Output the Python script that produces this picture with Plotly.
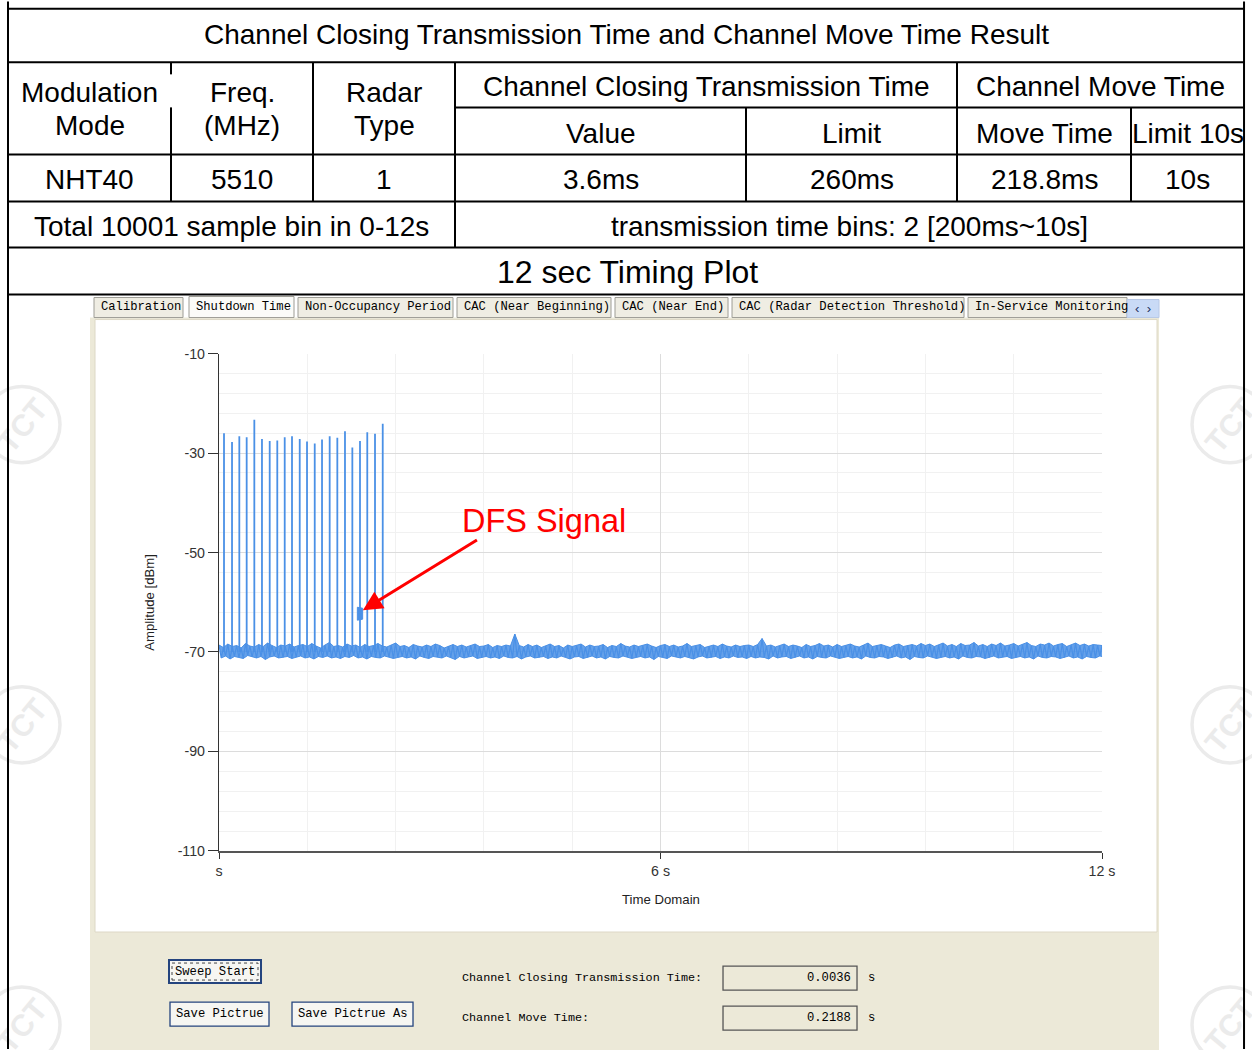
import numpy as np
import plotly.graph_objects as go

# Figure fills the whole window (body margin removed by post_script).
# Layout positions below are given in reference-picture pixels; the helper
# functions map them onto the page, allowing for the small scale/offset
# that the photographing step applies to the window.
W, H = 1252, 1050
SX, BX = 0.9864, 4.0
SY, BY = 0.984, 8.7
K = 2.0 / (SX + SY)  # size compensation for fonts / pixel lengths


def px(x):
    return (x - BX) / SX / W


def py(y):
    return 1 - (y - BY) / SY / H


# ---------------- data ----------------
SPIKE_T = [0.068, 0.177, 0.276, 0.376, 0.480, 0.584, 0.689, 0.792, 0.893, 0.992, 1.097,
           1.196, 1.301, 1.400, 1.504, 1.608, 1.712, 1.812, 1.916, 2.015, 2.120, 2.225]
SPIKE_PEAK = [-26.0, -27.8, -26.6, -26.8, -23.3, -27.2, -27.6, -27.5, -26.8, -26.6, -27.2,
              -27.7, -28.1, -27.3, -26.6, -26.9, -25.6, -28.9, -27.6, -25.8, -26.1, -24.1]
NOISE_LEVEL = -70.0

DFS_T = [1.880, 1.952]
DFS_TOP = [-61.0, -61.2]
DFS_BOTTOM = [-63.6, -63.4]

NOISE_HI = [
    -68.6, -69.1, -68.4, -68.9, -68.7, -69.2, -68.3, -68.8, -69.0, -68.5, -68.9, -68.2, -68.7, -69.1, -68.6, -68.8, -68.4, -69.0, -68.7, -68.5,
    -68.9, -68.3, -68.8, -69.2, -68.6, -68.1, -68.9, -68.7, -69.0, -68.4, -68.8, -68.6, -69.1, -68.5, -68.9, -68.7, -68.3, -68.8, -69.0, -68.6,
    -68.2, -68.9, -68.7, -69.1, -68.5, -68.8, -69.0, -68.6, -68.9, -68.4, -68.7, -69.2, -68.8, -68.5, -68.9, -68.6, -69.0, -68.7, -68.4, -68.9,
    -68.8, -68.5, -69.1, -68.7, -68.9, -68.6, -68.8, -66.4, -68.7, -69.0, -68.5, -68.9, -68.6, -69.1, -68.8, -68.4, -68.9, -68.7, -69.2, -68.6,
    -68.9, -68.7, -68.4, -69.0, -68.6, -68.9, -68.8, -68.5, -69.1, -68.7, -68.9, -68.3, -68.8, -69.0, -68.6, -68.9, -68.7, -68.4, -68.8, -69.1,
    -68.7, -68.5, -68.9, -68.6, -69.0, -68.8, -68.3, -68.9, -68.7, -68.5, -69.1, -68.8, -68.6, -68.9, -68.4, -68.8, -69.0, -68.6, -68.9, -68.7,
    -68.6, -68.9, -68.5, -67.3, -68.8, -68.6, -69.0, -68.7, -68.4, -68.9, -68.6, -68.8, -69.1, -68.5, -68.9, -68.7, -68.3, -68.8, -68.6, -69.0,
    -68.5, -68.9, -68.7, -68.4, -68.8, -69.0, -68.6, -68.2, -68.9, -68.7, -68.5, -68.8, -69.1, -68.6, -68.4, -68.9, -68.7, -68.5, -68.8, -68.3,
    -68.7, -68.4, -68.9, -68.6, -68.2, -68.8, -68.5, -68.9, -68.3, -68.7, -68.6, -68.1, -68.8, -68.5, -68.9, -68.4, -68.7, -68.2, -68.8, -68.6,
    -68.3, -68.8, -68.5, -68.1, -68.7, -68.9, -68.4, -68.6, -68.2, -68.8, -68.5, -68.3, -68.9, -68.6, -68.2, -68.7, -68.4, -68.8, -68.5, -68.6,
    -68.7]
NOISE_LO = [
    -71.2, -70.8, -71.4, -70.9, -71.1, -71.3, -70.7, -71.0, -71.2, -70.9, -71.5, -71.0, -70.8, -71.2, -71.1, -70.9, -71.3, -71.0, -70.8, -71.2,
    -71.0, -71.4, -70.9, -71.1, -70.8, -71.2, -71.0, -71.3, -70.9, -71.1, -70.7, -71.2, -71.0, -71.4, -70.9, -71.1, -71.2, -70.8, -71.0, -71.3,
    -71.1, -70.9, -71.2, -71.0, -71.4, -70.8, -71.1, -71.3, -70.9, -71.0, -71.2, -70.8, -71.1, -71.5, -70.9, -71.2, -71.0, -70.8, -71.3, -71.1,
    -70.9, -71.2, -71.0, -71.3, -70.8, -71.1, -71.2, -70.9, -71.4, -71.0, -70.8, -71.2, -71.1, -70.9, -71.3, -71.0, -71.2, -70.8, -71.1, -71.4,
    -71.0, -70.9, -71.3, -71.1, -70.8, -71.2, -71.0, -71.4, -70.9, -71.1, -71.2, -70.8, -71.0, -71.3, -71.1, -70.9, -71.2, -71.0, -71.5, -70.9,
    -71.1, -71.3, -70.8, -71.0, -71.2, -70.9, -71.1, -71.4, -71.0, -70.8, -71.2, -71.1, -70.9, -71.3, -71.0, -71.2, -70.8, -71.1, -71.0, -71.3,
    -70.9, -71.2, -71.0, -71.1, -71.4, -70.8, -71.2, -71.0, -70.9, -71.3, -71.1, -70.8, -71.2, -71.0, -71.4, -70.9, -71.1, -71.2, -70.8, -71.0,
    -71.3, -71.1, -70.9, -71.2, -71.0, -71.4, -70.8, -71.1, -71.2, -70.9, -71.0, -71.3, -71.1, -70.8, -71.2, -71.0, -71.5, -70.9, -71.1, -71.2,
    -70.8, -71.0, -71.3, -71.1, -70.9, -71.2, -71.0, -71.4, -70.8, -71.1, -71.2, -70.9, -71.0, -71.3, -71.1, -70.8, -71.2, -71.0, -70.9, -71.3,
    -71.1, -70.9, -71.2, -71.0, -71.4, -70.8, -71.1, -71.2, -70.9, -71.0, -71.3, -71.1, -70.8, -71.2, -71.0, -71.4, -70.9, -71.1, -71.2, -70.8,
    -71.0]

X_TICKS = [0, 6, 12]
X_TICK_TEXT = ["s", "6 s", "12 s"]
Y_TICKS = [-110, -90, -70, -50, -30, -10]
Y_TICK_TEXT = ["-110", "-90", "-70", "-50", "-30", "-10"]

TABLE_TITLE = "Channel Closing Transmission Time and Channel Move Time Result"
HEAD_LEFT = [("Modulation", "Mode"), ("Freq.", "(MHz)"), ("Radar", "Type")]
HEAD_GROUPS = ["Channel Closing Transmission Time", "Channel Move Time"]
HEAD_SUB = ["Value", "Limit", "Move Time", "Limit 10s"]
ROW_VALUES = ["NHT40", "5510", "1", "3.6ms", "260ms", "218.8ms", "10s"]
NOTE_LEFT = "Total 10001 sample bin in 0-12s"
NOTE_RIGHT = "transmission time bins: 2 [200ms~10s]"
PLOT_TITLE = "12 sec Timing Plot"

TAB_LABELS = ["Calibration", "Shutdown Time", "Non-Occupancy Period", "CAC (Near Beginning)",
              "CAC (Near End)", "CAC (Radar Detection Threshold)", "In-Service Monitoring"]
RESULT_LABELS = ["Channel Closing Transmission Time:", "Channel Move Time:"]
RESULT_VALUES = ["0.0036", "0.2188"]
BUTTONS = ["Sweep Start", "Save Pictrue", "Save Pictrue As"]
WATERMARK = "TCT"

# ---------------- layout geometry (reference pixels) ----------------
PLOT_L, PLOT_R, PLOT_T, PLOT_B = 219, 1102, 354, 851
SANS = "Liberation Sans, Arial, sans-serif"
MONO = "Liberation Mono, Courier New, monospace"
BLUE = "#4a90e6"
TFS = 27.6  # table font size

fig = go.Figure()

# noise floor: filled envelope + zig-zag between upper and lower values
t_env = np.linspace(0, 12, len(NOISE_HI))
half = (t_env[1] - t_env[0]) / 2
fig.add_trace(go.Scatter(x=t_env + half, y=NOISE_LO, mode="lines", line=dict(color=BLUE, width=1),
                         hoverinfo="skip", showlegend=False))
fig.add_trace(go.Scatter(x=t_env, y=NOISE_HI, mode="lines", line=dict(color=BLUE, width=1),
                         fill="tonexty", fillcolor="rgba(74,144,230,0.85)",
                         hoverinfo="skip", showlegend=False))
nx, ny = [], []
for t, hi, lo in zip(t_env, NOISE_HI, NOISE_LO):
    nx += [t, t + half]
    ny += [hi, lo]
fig.add_trace(go.Scatter(x=nx, y=ny, mode="lines", line=dict(color=BLUE, width=1.2),
                         hoverinfo="skip", showlegend=False))

# spikes
sx, sy = [], []
for t, p in zip(SPIKE_T, SPIKE_PEAK):
    sx += [t, t, None]
    sy += [NOISE_LEVEL, p, None]
fig.add_trace(go.Scatter(x=sx, y=sy, mode="lines", line=dict(color=BLUE, width=1.8),
                         hoverinfo="skip", showlegend=False))

# DFS burst
fig.add_trace(go.Scatter(x=[DFS_T[0], DFS_T[1], DFS_T[1], DFS_T[0], DFS_T[0]],
                         y=[DFS_TOP[0], DFS_TOP[1], DFS_BOTTOM[1], DFS_BOTTOM[0], DFS_TOP[0]],
                         mode="lines", fill="toself", fillcolor=BLUE,
                         line=dict(color=BLUE, width=1), hoverinfo="skip", showlegend=False))

shapes = []
annotations = []

# watermarks
WM_CENTERS = [(22, 425), (1230, 425), (22, 725), (1230, 725), (22, 1025), (1230, 1025)]
WM_R = 38
for cx, cy in WM_CENTERS:
    shapes.append(dict(type="circle", xref="paper", yref="paper",
                       x0=px(cx - WM_R), x1=px(cx + WM_R), y0=py(cy + WM_R), y1=py(cy - WM_R),
                       line=dict(color="#ebebeb", width=3.5), layer="below"))
    annotations.append(dict(text="<b>%s</b>" % WATERMARK, x=px(cx), y=py(cy), xref="paper", yref="paper",
                            xanchor="center", yanchor="middle",
                            showarrow=False, textangle=-50,
                            font=dict(family=SANS, size=30 * K, color="#ebebeb")))

# screenshot background
shapes.append(dict(type="rect", xref="paper", yref="paper", x0=px(90), x1=px(1159), y0=py(1055), y1=py(318),
                   fillcolor="#ece9d8", line=dict(width=0), layer="below"))
shapes.append(dict(type="rect", xref="paper", yref="paper", x0=px(95), x1=px(1157), y0=py(932), y1=py(320),
                   fillcolor="#ffffff", line=dict(color="#ddd8c6", width=1), layer="below"))

TOP_Y, LEFT_X, RIGHT_X = 9.5, 8, 1244


# table lines
def hline(y, x0, x1):
    shapes.append(dict(type="line", xref="paper", yref="paper", x0=px(x0), x1=px(x1), y0=py(y), y1=py(y),
                       line=dict(color="black", width=2)))


def vline(x, y0, y1):
    shapes.append(dict(type="line", xref="paper", yref="paper", x0=px(x), x1=px(x), y0=py(y0), y1=py(y1),
                       line=dict(color="black", width=2)))


for y in [TOP_Y, 63, 155, 202, 248, 295]:
    hline(y, LEFT_X, RIGHT_X)
hline(108, 455, RIGHT_X)
vline(171, 63, 75)
vline(171, 108, 202)
vline(313, 63, 202)
vline(455, 63, 248)
vline(746, 108, 202)
vline(957, 63, 202)
vline(1131, 108, 202)


def text(s, x, y, size=TFS, family=SANS, color="black", xanchor="center", **kw):
    annotations.append(dict(text=s, x=px(x), y=py(y), xref="paper", yref="paper", showarrow=False,
                            xanchor=xanchor, yanchor="middle",
                            font=dict(family=family, size=size * K, color=color), **kw))


text(TABLE_TITLE, 626, 35)
for (l1, l2), cx in zip(HEAD_LEFT, [89.5, 242, 384]):
    text(l1, cx, 93)
    text(l2, cx, 126)
text(HEAD_GROUPS[0], 706, 87)
text(HEAD_GROUPS[1], 1100, 87)
for s, cx in zip(HEAD_SUB, [600.5, 851.5, 1044, 1187.5]):
    text(s, cx, 134)
for s, cx in zip(ROW_VALUES, [89.5, 242, 384, 600.5, 851.5, 1044, 1187.5]):
    text(s, cx, 180)
text(NOTE_LEFT, 231.5, 227)
text(NOTE_RIGHT, 849.5, 227)
text(PLOT_TITLE, 627, 272, size=31.5)

# tabs
TAB_X = [(94, 183), (189, 294), (298, 453), (457, 611), (615, 728), (732, 964), (968, 1127)]
for i, (lab, (x0, x1)) in enumerate(zip(TAB_LABELS, TAB_X)):
    sel = i == 1
    shapes.append(dict(type="rect", xref="paper", yref="paper", x0=px(x0), x1=px(x1),
                       y0=py(318), y1=py(297 if sel else 298),
                       fillcolor="#fbfbf8" if sel else "#efede3",
                       line=dict(color="#9d9c95", width=1)))
    text(lab, x0 + 5, 307.5, size=12, family=MONO, xanchor="left")
shapes.append(dict(type="rect", xref="paper", yref="paper", x0=px(1127), x1=px(1159), y0=py(318), y1=py(300),
                   fillcolor="#c9daf6", line=dict(color="#b7c8e6", width=1)))
text("‹  ›", 1143, 309, size=13, family=SANS, color="#203060")

# bottom panel: buttons
BTN_BOX = [(169, 261, 960, 983), (170, 269, 1002, 1026), (292, 413, 1002, 1026)]
for i, (lab, (x0, x1, y0, y1)) in enumerate(zip(BUTTONS, BTN_BOX)):
    shapes.append(dict(type="rect", xref="paper", yref="paper", x0=px(x0), x1=px(x1), y0=py(y1), y1=py(y0),
                       fillcolor="#f6f6f2", line=dict(color="#24447e", width=1.3 if i else 2)))
    if i == 0:
        shapes.append(dict(type="rect", xref="paper", yref="paper", x0=px(x0 + 3), x1=px(x1 - 3),
                           y0=py(y1 - 3), y1=py(y0 + 3), line=dict(color="#444", width=1, dash="dot")))
    text(lab, (x0 + x1) / 2, (y0 + y1) / 2, size=12, family=MONO)

for lab, val, (y0, y1) in zip(RESULT_LABELS, RESULT_VALUES, [(966, 990), (1006, 1030)]):
    text(lab, 460, (y0 + y1) / 2, size=11.6, family=MONO, xanchor="left")
    shapes.append(dict(type="rect", xref="paper", yref="paper", x0=px(723), x1=px(857), y0=py(y1), y1=py(y0),
                       fillcolor="#ece9d8", line=dict(color="#555555", width=1.3)))
    text(val, 853, (y0 + y1) / 2, size=12, family=MONO, xanchor="right")
    text("s", 866, (y0 + y1) / 2, size=12, family=MONO, xanchor="left")

# axis titles and callout
text("Amplitude [dBm]", 150, 603, size=13, color="#222", textangle=-90)
text("Time Domain", 661, 900, size=13, color="#222")
text("DFS Signal", 543.5, 521, size=32, color="#ff0000")

annotations.append(dict(x=1.955, y=-61.6, xref="x", yref="y", text="", showarrow=True,
                        ax=114 / SX, ay=-70 / SY, axref="pixel", ayref="pixel",
                        arrowcolor="#ff0000", arrowwidth=3, arrowhead=2, arrowsize=1.3, standoff=0))

# outer border verticals drawn on top of the watermarks
BOTTOM_Y = 1050
for bx in [LEFT_X, RIGHT_X]:
    annotations.append(dict(x=px(bx), y=py(BOTTOM_Y), xref="paper", yref="paper", text="", showarrow=True,
                            ax=0, ay=-(BOTTOM_Y - TOP_Y) / SY, arrowcolor="black", arrowwidth=2, arrowhead=0,
                            standoff=0, startstandoff=0))

fig.update_layout(
    width=W, height=H, margin=dict(l=0, r=0, t=0, b=0),
    paper_bgcolor="white", plot_bgcolor="white", showlegend=False,
    shapes=shapes, annotations=annotations,
    xaxis=dict(domain=[px(PLOT_L), px(PLOT_R)], range=[0, 12], tickvals=X_TICKS, ticktext=X_TICK_TEXT,
               ticks="outside", ticklen=6 * K, tickcolor="#333", tickwidth=1,
               showline=True, linecolor="#555", linewidth=2,
               showgrid=True, gridcolor="#dcdcdc", gridwidth=1, zeroline=False,
               minor=dict(dtick=1.2, tick0=0, showgrid=True, gridcolor="#f1f1f1", ticks=""),
               tickfont=dict(family=SANS, size=14 * K, color="#333"), fixedrange=True),
    yaxis=dict(domain=[py(PLOT_B), py(PLOT_T)], range=[-110, -10], tickvals=Y_TICKS, ticktext=Y_TICK_TEXT,
               ticks="outside", ticklen=10 * K, tickcolor="#333", tickwidth=1,
               showline=True, linecolor="#333", linewidth=1,
               showgrid=True, gridcolor="#dcdcdc", gridwidth=1, zeroline=False,
               minor=dict(dtick=4, tick0=-10, showgrid=True, gridcolor="#f1f1f1", ticks=""),
               tickfont=dict(family=SANS, size=14 * K, color="#333"), fixedrange=True),
)

fig.write_html("out.html", config={"displayModeBar": False},
               post_script="document.body.style.margin='0';document.body.style.overflow='hidden';")
